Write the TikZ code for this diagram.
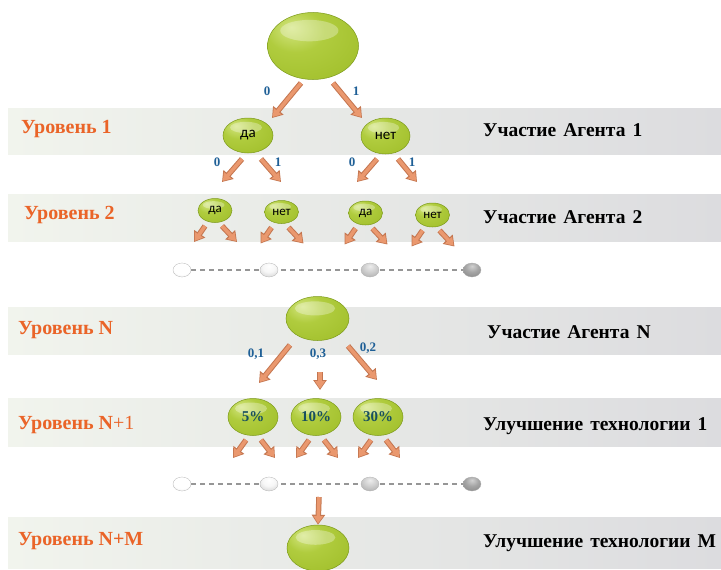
\documentclass[tikz,border=0pt]{standalone}
\usepackage{fontspec}
\setmainfont{Liberation Serif}
\newfontfamily\cbri{Carlito}
\usetikzlibrary{shapes.geometric,arrows.meta,calc}
\definecolor{gHi}{RGB}{212,230,130}
\definecolor{gMid}{RGB}{176,204,62}
\definecolor{gBase}{RGB}{160,190,42}
\definecolor{gDark}{RGB}{124,154,26}
\definecolor{arrF}{RGB}{234,152,110}
\definecolor{arrB}{RGB}{196,118,80}
\definecolor{lvlC}{RGB}{234,100,40}
\definecolor{blueC}{RGB}{30,95,150}
\definecolor{tealC}{RGB}{25,80,95}
\definecolor{bandL}{RGB}{241,244,237}
\definecolor{bandR}{RGB}{220,220,223}
\definecolor{dashC}{RGB}{150,150,150}
\definecolor{sA}{RGB}{200,200,200}
\definecolor{sB}{RGB}{170,170,170}
\definecolor{sC}{RGB}{135,135,135}
\definecolor{sD}{RGB}{105,105,105}
\newcommand{\widesp}{\spaceskip=0.36em\relax}
\pgfdeclareradialshading{greenball}{\pgfpoint{-12bp}{14bp}}{color(0bp)=(gHi); color(16bp)=(gMid); color(42bp)=(gBase); color(58bp)=(gDark); color(80bp)=(gDark)}
\pgfdeclareradialshading{sphA}{\pgfpoint{0bp}{14bp}}{color(0bp)=(white); color(25bp)=(white); color(60bp)=(sA); color(80bp)=(sA)}
\pgfdeclareradialshading{sphB}{\pgfpoint{0bp}{14bp}}{color(0bp)=(white); color(18bp)=(white!90!sB); color(60bp)=(sB); color(80bp)=(sB)}
\pgfdeclareradialshading{sphC}{\pgfpoint{0bp}{14bp}}{color(0bp)=(white!85!sC); color(18bp)=(white!60!sC); color(60bp)=(sC); color(80bp)=(sC)}
\pgfdeclareradialshading{sphD}{\pgfpoint{0bp}{14bp}}{color(0bp)=(white!70!sD); color(18bp)=(white!40!sD); color(60bp)=(sD); color(80bp)=(sD)}
\tikzset{
  gball/.style={ellipse, inner sep=0pt, shade, shading=greenball, draw=gDark, line width=0.5pt,
    path picture={\fill[white, fill opacity=0.3] let \p1=(path picture bounding box.north east), \p2=(path picture bounding box.south west), \n1={\x1-\x2}, \n2={\y1-\y2} in ({(\x1+\x2)/2-0.04*\n1},{\y1-0.27*\n2}) ellipse [x radius={0.32*\n1}, y radius={0.16*\n2}];}},
  gsphere/.style={ellipse, inner sep=0pt, minimum width=18pt, minimum height=14pt, shade, shading=#1, draw=gray!60, line width=0.3pt},
  band/.style={left color=bandL, right color=bandR},
  barrow/.style={draw=arrB, line width=5.5pt, -{Triangle[width=13pt,length=10pt]},
    postaction={draw=arrF, line width=3.5pt, -{Triangle[width=9.5pt,length=7.5pt]}, shorten >=1.3pt}},
  lvl/.style={anchor=base west, inner sep=0pt, text=lvlC, font=\fontsize{20}{24}\selectfont\bfseries},
  agent/.style={anchor=base west, inner sep=0pt, font=\fontsize{19.5}{23}\selectfont\bfseries\widesp},
  blab/.style={inner sep=0pt, text=blueC, font=\fontsize{13}{15}\selectfont\bfseries},
  sansl/.style={font=\cbri\fontsize{#1}{#1}\selectfont},
  pct/.style={text=tealC, font=\fontsize{15}{17}\selectfont\bfseries},
  dline/.style={draw=dashC, line width=1.3pt, dash pattern=on 5pt off 4pt}
}
\begin{document}
\begin{tikzpicture}[x=1pt,y=-1pt]
\useasboundingbox (0,0) rectangle (721,570);
% bands
\shade[band] (8,108) rectangle (721,154);
\shade[band] (8,194) rectangle (721,241);
\shade[band] (8,307) rectangle (721,354);
\shade[band] (8,398) rectangle (721,446);
\shade[band] (8,517) rectangle (721,568);

% gray sphere rows
\coordinate (gc1) at (182,270); \coordinate (gc2) at (269,270);
\coordinate (gc3) at (370,270); \coordinate (gc4) at (472,270);
\coordinate (hc1) at (182,484); \coordinate (hc2) at (269,484);
\coordinate (hc3) at (370,484); \coordinate (hc4) at (472,484);
\draw[dline] (gc1) -- (gc2) -- (gc3) -- (gc4);
\draw[dline] (hc1) -- (hc2) -- (hc3) -- (hc4);
\node[gsphere=sphA] (g1) at (gc1) {};
\node[gsphere=sphB] (g2) at (gc2) {};
\node[gsphere=sphC] (g3) at (gc3) {};
\node[gsphere=sphD] (g4) at (gc4) {};
\node[gsphere=sphA] (h1) at (hc1) {};
\node[gsphere=sphB] (h2) at (hc2) {};
\node[gsphere=sphC] (h3) at (hc3) {};
\node[gsphere=sphD] (h4) at (hc4) {};

% green balls
\node[gball, minimum width=91pt, minimum height=67pt] (top) at (313,46) {};
\node[gball, minimum width=50pt, minimum height=35pt, sansl=15] (da1) at (248,135.5) {да};
\node[gball, minimum width=49pt, minimum height=36pt, sansl=15] (net1) at (385.5,136) {нет};
\node[gball, minimum width=34pt, minimum height=24pt, sansl=13] (da2a) at (215,210.5) {да};
\node[gball, minimum width=34pt, minimum height=23pt, sansl=13] (net2a) at (281.5,212) {нет};
\node[gball, minimum width=34pt, minimum height=24pt, sansl=13] (da2b) at (365.5,213) {да};
\node[gball, minimum width=34pt, minimum height=24pt, sansl=13] (net2b) at (432.5,215) {нет};
\node[gball, minimum width=63pt, minimum height=44pt] (nN) at (317.5,318.5) {};
\node[gball, minimum width=50pt, minimum height=37pt, pct] (p5) at (253,417) {5\%};
\node[gball, minimum width=50pt, minimum height=37pt, pct] (p10) at (316,417) {10\%};
\node[gball, minimum width=50pt, minimum height=37pt, pct] (p30) at (378,417) {30\%};
\node[gball, minimum width=62pt, minimum height=46pt] (nM) at (318,548) {};

% arrows level 0 -> 1
\draw[barrow] ([shift={(-12,37)}]top.center) -- ([shift={(24,-17.5)}]da1.center);
\draw[barrow] ([shift={(20,37)}]top.center) -- ([shift={(-23.5,-18)}]net1.center);
% level 1 -> 2
\draw[barrow] ([shift={(-6,23.5)}]da1.center) -- ([shift={(7,-28.5)}]da2a.center);
\draw[barrow] ([shift={(13,23.5)}]da1.center) -- ([shift={(-0.5,-30)}]net2a.center);
\draw[barrow] ([shift={(-8.5,23)}]net1.center) -- ([shift={(-8.5,-31)}]da2b.center);
\draw[barrow] ([shift={(12.5,23)}]net1.center) -- ([shift={(-15.5,-33)}]net2b.center);
% level 2 outgoing
\foreach \c in {da2a,net2a,da2b,net2b}{
  \draw[barrow] ([shift={(-10,15.5)}]\c.center) -- ([shift={(-21,31.5)}]\c.center);
  \draw[barrow] ([shift={(7,15.5)}]\c.center) -- ([shift={(22,31.5)}]\c.center);
}
% level N -> N+1
\draw[barrow] ([shift={(-27.5,26.5)}]nN.center) -- ([shift={(6,-34)}]p5.center);
\draw[barrow] ([shift={(2.5,53.5)}]nN.center) -- ([shift={(4,-27)}]p10.center);
\draw[barrow] ([shift={(30.5,27.5)}]nN.center) -- ([shift={(-1,-37)}]p30.center);
% level N+1 outgoing
\foreach \c in {p5,p10,p30}{
  \draw[barrow] ([shift={(-7,23)}]\c.center) -- ([shift={(-20,41)}]\c.center);
  \draw[barrow] ([shift={(8,23)}]\c.center) -- ([shift={(22,41)}]\c.center);
}
% down to N+M
\coordinate (dtail) at (319,497);
\draw[barrow] (dtail) -- (nM.north);

% branch labels
\node[blab] (l0a) at (267,91) {0};
\node[blab] (l1a) at (356,91) {1};
\node[blab] (l0b) at (217,162) {0};
\node[blab] (l1b) at (278,162) {1};
\node[blab] (l0c) at (352,162) {0};
\node[blab] (l1c) at (412,162) {1};
\node[blab] (q1) at (256,354) {0,1};
\node[blab] (q3) at (318,354) {0,3};
\node[blab] (q2) at (368,348) {0,2};

% level labels
\node[lvl] (u1) at (21,133) {Уровень 1};
\node[lvl] (u2) at (24,219) {Уровень 2};
\node[lvl] (uN) at (18,334) {Уровень N};
\node[lvl] (uN1) at (18,429) {Уровень N\mdseries+1};
\node[lvl] (uNM) at (18,545) {Уровень N+M};

% right labels
\node[agent] (a1) at (483,136) {Участие Агента 1};
\node[agent] (a2) at (483,223) {Участие Агента 2};
\node[agent] (aN) at (487,338) {Участие Агента N};
\node[agent] (t1) at (483,430) {Улучшение технологии 1};
\node[agent] (tM) at (483,547) {Улучшение технологии M};
\end{tikzpicture}
\end{document}
